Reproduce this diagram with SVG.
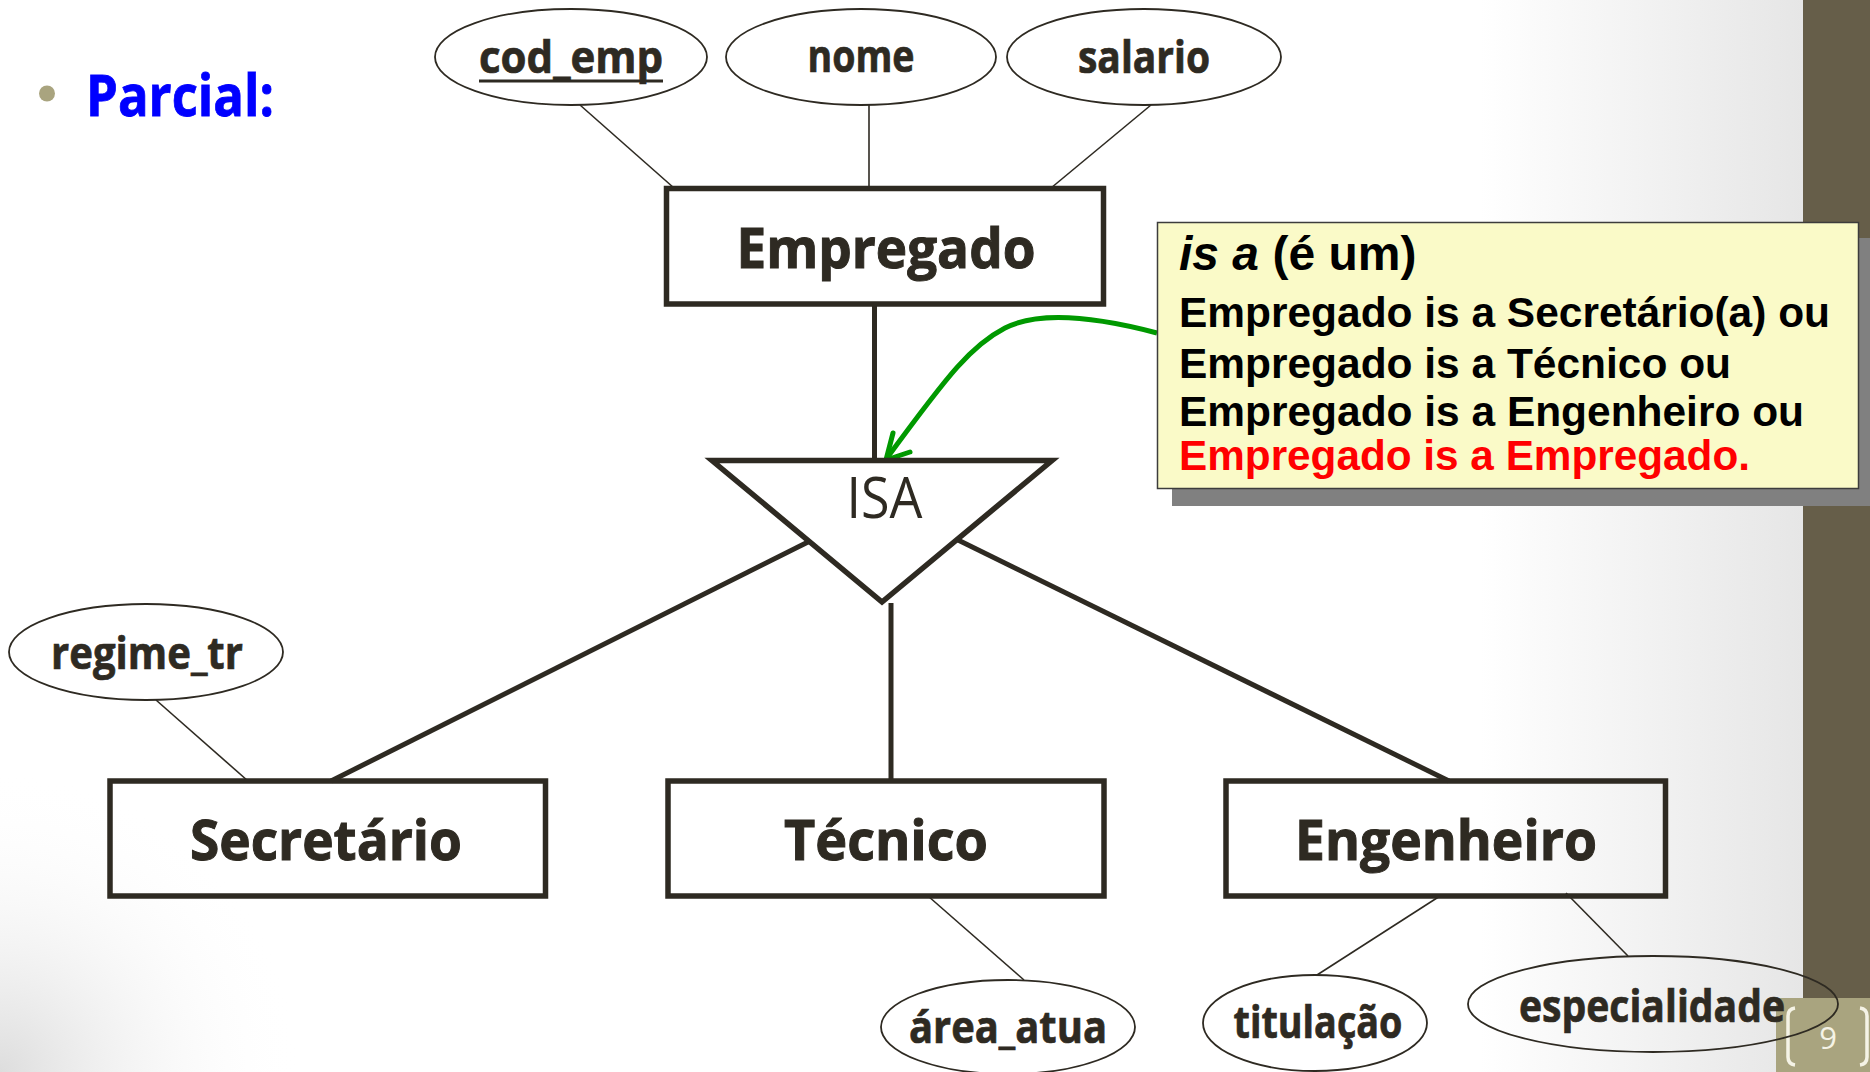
<svg xmlns="http://www.w3.org/2000/svg" width="1870" height="1072" viewBox="0 0 1870 1072">
<defs>
<linearGradient id="bgR" x1="1480" y1="0" x2="1803" y2="0" gradientUnits="userSpaceOnUse">
<stop offset="0" stop-color="#ffffff"/>
<stop offset="1" stop-color="#e6e6e6"/>
</linearGradient>
<radialGradient id="bgL" cx="0" cy="1072" r="300" gradientUnits="userSpaceOnUse">
<stop offset="0" stop-color="#dddddd" stop-opacity="1"/>
<stop offset="1" stop-color="#ffffff" stop-opacity="0"/>
</radialGradient>
<style>
.attr{fill:none;stroke:#2e2a22;stroke-width:1.8}
.ent{fill:none;stroke:#2e2a22;stroke-width:5.5}
.thin{stroke:#2e2a22;stroke-width:1.6;fill:none}
.thick{stroke:#2e2a22;stroke-width:5;fill:none}
.at{font-family:"Open Sans","DejaVu Sans",sans-serif;font-weight:700;font-size:44px;fill:#2e2a22;stroke:#2e2a22;stroke-width:0.7;text-anchor:middle}
.et{font-family:"Open Sans","DejaVu Sans",sans-serif;font-weight:700;font-size:56px;fill:#2e2a22;stroke:#2e2a22;stroke-width:1;text-anchor:middle}
.nt{font-family:"Liberation Sans",Arial,sans-serif;font-weight:700;font-size:42px;fill:#000000}
</style>
</defs>
<rect x="0" y="0" width="1870" height="1072" fill="#ffffff"/>
<rect x="1480" y="0" width="323" height="1072" fill="url(#bgR)"/>
<rect x="0" y="760" width="320" height="312" fill="url(#bgL)"/>
<g id="slide-frame">
<rect x="1803" y="0" width="67" height="998" fill="#665e49"/>
<rect x="1776" y="998" width="94" height="74" fill="#a9a47f"/>
<path d="M1795,1008 Q1788,1009 1788,1016 L1788,1057 Q1788,1064 1795,1065" fill="none" stroke="#f5f3e6" stroke-width="3.5"/>
<path d="M1860,1008 Q1867,1009 1867,1016 L1867,1057 Q1867,1064 1860,1065" fill="none" stroke="#f5f3e6" stroke-width="3.5"/>
<text x="1828" y="1049" font-family="'Open Sans','DejaVu Sans',sans-serif" font-size="31" fill="#f5f3e6" text-anchor="middle">9</text>
</g>
<g id="title">
<circle cx="47" cy="93.5" r="8" fill="#a9a47f"/>
<text x="86" y="116" font-family="'Open Sans','DejaVu Sans',sans-serif" font-weight="700" font-size="57" fill="#0000ff" stroke="#0000ff" stroke-width="0.8" textLength="188" lengthAdjust="spacingAndGlyphs">Parcial:</text>
</g>
<g id="connectors">
<line class="thin" x1="580" y1="105" x2="674" y2="188"/>
<line class="thin" x1="869" y1="105" x2="869" y2="188"/>
<line class="thin" x1="1151" y1="105" x2="1051" y2="188"/>
<line class="thin" x1="156" y1="700" x2="248" y2="781"/>
<line class="thin" x1="928" y1="896" x2="1024" y2="980"/>
<line class="thin" x1="1440" y1="896" x2="1317" y2="975"/>
<line class="thin" x1="1566" y1="893" x2="1628" y2="956"/>
<line class="thick" x1="874.5" y1="304" x2="874.5" y2="460"/>
<line class="thick" x1="808" y1="542" x2="331" y2="781"/>
<line class="thick" x1="891" y1="603" x2="891" y2="781"/>
<line class="thick" x1="958" y1="540" x2="1449" y2="781"/>
<path d="M1157,333 C1100,318 1040,310 1005,328 C972,345 950,372 887,458" fill="none" stroke="#009900" stroke-width="5"/>
<polyline points="893,433 886,460 910,452" fill="none" stroke="#009900" stroke-width="5" stroke-linecap="round" stroke-linejoin="round"/>
</g>
<g id="cod_emp">
<ellipse class="attr" cx="571" cy="57" rx="136" ry="48"/>
<text class="at" x="571" y="73" textLength="184" lengthAdjust="spacingAndGlyphs">cod_emp</text>
<line x1="479" y1="81" x2="663" y2="81" stroke="#2e2a22" stroke-width="3"/>
</g>
<g id="nome">
<ellipse class="attr" cx="861" cy="57" rx="135" ry="48"/>
<text class="at" x="861" y="72" textLength="107" lengthAdjust="spacingAndGlyphs">nome</text>
</g>
<g id="salario">
<ellipse class="attr" cx="1144" cy="57" rx="137" ry="48"/>
<text class="at" x="1144" y="73" textLength="132" lengthAdjust="spacingAndGlyphs">salario</text>
</g>
<g id="empregado">
<rect class="ent" x="666.5" y="188.5" width="437" height="115.5"/>
<text class="et" x="886" y="268" textLength="299" lengthAdjust="spacingAndGlyphs">Empregado</text>
</g>
<g id="isa">
<polygon points="712,460.5 1052,460.5 882,602" fill="none" stroke="#2e2a22" stroke-width="5.5"/>
<text x="884.5" y="518" font-family="'Open Sans','DejaVu Sans',sans-serif" font-size="57" fill="#2e2a22" text-anchor="middle" textLength="76" lengthAdjust="spacingAndGlyphs">ISA</text>
</g>
<g id="regime_tr">
<ellipse class="attr" cx="146" cy="652" rx="137" ry="48"/>
<text class="at" x="147" y="669" textLength="192" lengthAdjust="spacingAndGlyphs">regime_tr</text>
</g>
<g id="secretario">
<rect class="ent" x="110" y="781" width="435.5" height="115"/>
<text class="et" x="326" y="860" textLength="272" lengthAdjust="spacingAndGlyphs">Secretário</text>
</g>
<g id="tecnico">
<rect class="ent" x="668" y="781" width="436" height="115"/>
<text class="et" x="886" y="860" textLength="204" lengthAdjust="spacingAndGlyphs">Técnico</text>
</g>
<g id="engenheiro">
<rect class="ent" x="1226" y="781" width="439.5" height="115"/>
<text class="et" x="1446" y="860" textLength="302" lengthAdjust="spacingAndGlyphs">Engenheiro</text>
</g>
<g id="area_atua">
<ellipse class="attr" cx="1008" cy="1027" rx="127" ry="47"/>
<text class="at" x="1008" y="1043" textLength="198" lengthAdjust="spacingAndGlyphs">área_atua</text>
</g>
<g id="titulacao">
<ellipse class="attr" cx="1315" cy="1023" rx="112" ry="48"/>
<text class="at" x="1318" y="1038" textLength="169" lengthAdjust="spacingAndGlyphs">titulação</text>
</g>
<g id="especialidade">
<ellipse class="attr" cx="1653" cy="1004" rx="185" ry="48"/>
<text class="at" x="1652" y="1022" font-size="47" textLength="266" lengthAdjust="spacingAndGlyphs">especialidade</text>
</g>
<g id="note">
<rect x="1172" y="238" width="702" height="268" fill="#808080"/>
<rect x="1157.5" y="222.5" width="701" height="266" fill="#fafac8" stroke="#3c3c3c" stroke-width="1.5"/>
<text x="1179" y="270" font-family="'Liberation Sans',Arial,sans-serif" font-weight="700" font-size="48" fill="#000000"><tspan font-style="italic">is a</tspan> (é um)</text>
<text class="nt" x="1179" y="327" textLength="651" lengthAdjust="spacingAndGlyphs">Empregado is a Secretário(a) ou</text>
<text class="nt" x="1179" y="378" textLength="552" lengthAdjust="spacingAndGlyphs">Empregado is a Técnico ou</text>
<text class="nt" x="1179" y="426" textLength="625" lengthAdjust="spacingAndGlyphs">Empregado is a Engenheiro ou</text>
<text class="nt" x="1179" y="470" style="fill:#ff0000" textLength="571" lengthAdjust="spacingAndGlyphs">Empregado is a Empregado.</text>
</g>
</svg>
